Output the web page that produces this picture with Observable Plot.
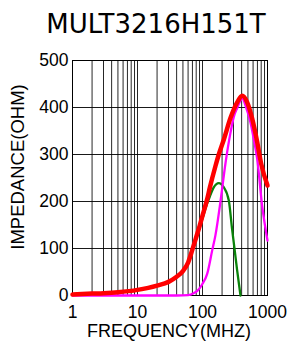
<!DOCTYPE html>
<html>
<head>
<meta charset="utf-8">
<script src="https://cdn.jsdelivr.net/npm/d3@7"></script>
<script src="https://cdn.jsdelivr.net/npm/@observablehq/plot@0.6"></script>
<style>
  html, body { margin: 0; padding: 0; background: #fff; }
  #wrap { width: 292px; height: 343px; position: relative; overflow: hidden; }
  #title { position: absolute; left: 0; top: 0; width: 292px; height: 48px; box-sizing: border-box;
    padding-top: 9px; padding-left: 20px; text-align: center; font-family: "DejaVu Sans", sans-serif;
    font-size: 26px; line-height: 30px; color: #000; }
  #chart { position: absolute; left: 0; top: 48px; }
</style>
</head>
<body>
<div id="wrap">
  <div id="title">MULT3216H151T</div>
  <div id="chart"></div>
</div>
<script>
// Tick labels / grid
const xTicks = [1, 10, 100, 1000];
const yTicks = [0, 100, 200, 300, 400, 500];
const xGrid = [1, 2, 3, 4, 5, 6, 7, 8, 9, 10, 20, 30, 40, 50, 60, 70, 80, 90, 100, 200, 300, 400, 500, 600, 700, 800, 900, 1000];

// Impedance |Z| (red)
const zFreq = [1, 2, 3, 5, 10, 20, 30, 40, 50, 60, 70, 80, 90, 100, 118, 130, 158, 178, 213, 270, 342, 408, 487, 582, 695, 800, 1000];
const zVal  = [2, 4, 5, 7, 12, 21, 29, 40, 52, 70, 98, 124, 147, 170, 205, 230, 275, 300, 332, 378, 411, 425, 411, 376, 326, 280, 234];

// Resistance R (magenta)
const rFreq = [1, 10, 40, 60, 73, 83, 93, 100, 118, 141, 158, 189, 226, 270, 303, 342, 384, 410, 459, 547, 620, 695, 829, 1000];
const rVal  = [0, 0, 0, 1, 5, 10, 18, 25, 46, 96, 128, 200, 282, 347, 380, 399, 415, 420, 404, 368, 330, 290, 190, 117];

// Reactance X (green)
const xFreq = [1, 2, 3, 5, 10, 20, 30, 40, 50, 60, 70, 80, 90, 100, 118, 130, 149, 178, 213, 254, 286, 303, 340, 384];
const xVal  = [2, 4, 5, 7, 12, 21, 29, 40, 52, 70, 96, 121, 144, 164, 196, 211, 230, 239, 230, 202, 140, 112, 55, 0];

const toRows = (fs, vs) => fs.map((f, i) => ({f, v: vs[i]}));

const chart = Plot.plot({
  width: 292,
  height: 295,
  marginTop: 12,
  marginLeft: 72,
  marginRight: 25,
  marginBottom: 48,
  style: {fontFamily: "'Liberation Sans', Arial, sans-serif", fontSize: "17.5px", color: "#000", background: "#fff", overflow: "visible"},
  x: {type: "log", domain: [1, 1000], ticks: xTicks, tickFormat: d => String(d), tickSize: 0, tickPadding: 10, label: null},
  y: {domain: [0, 500], ticks: yTicks, tickSize: 0, tickPadding: 4, label: null},
  marks: [
    Plot.ruleX(xGrid, {stroke: "#000", strokeWidth: 1, strokeOpacity: 0.85}),
    Plot.ruleY(yTicks, {stroke: "#000", strokeWidth: 1, strokeOpacity: 0.9}),
    Plot.frame({stroke: "#000", strokeWidth: 1}),
    Plot.line(toRows(xFreq, xVal), {x: "f", y: "v", stroke: "#0a820a", strokeWidth: 2.3, curve: "monotone-x"}),
    Plot.line(toRows(rFreq, rVal), {x: "f", y: "v", stroke: "#ff00ff", strokeWidth: 2.3, curve: "monotone-x"}),
    Plot.line(toRows(zFreq, zVal), {x: "f", y: "v", stroke: "#ff0000", strokeWidth: 4.5, curve: "monotone-x"}),
    Plot.text(["IMPEDANCE(OHM)"], {frameAnchor: "left", rotate: -90, dx: -54, dy: -11, textAnchor: "middle", lineAnchor: "middle", fontSize: 18.5, fill: "#000"}),
    Plot.text(["FREQUENCY(MHZ)"], {frameAnchor: "bottom", dx: -1, dy: 41, textAnchor: "middle", lineAnchor: "bottom", fontSize: 18, fill: "#000"})
  ]
});
document.getElementById("chart").appendChild(chart);
</script>
</body>
</html>
